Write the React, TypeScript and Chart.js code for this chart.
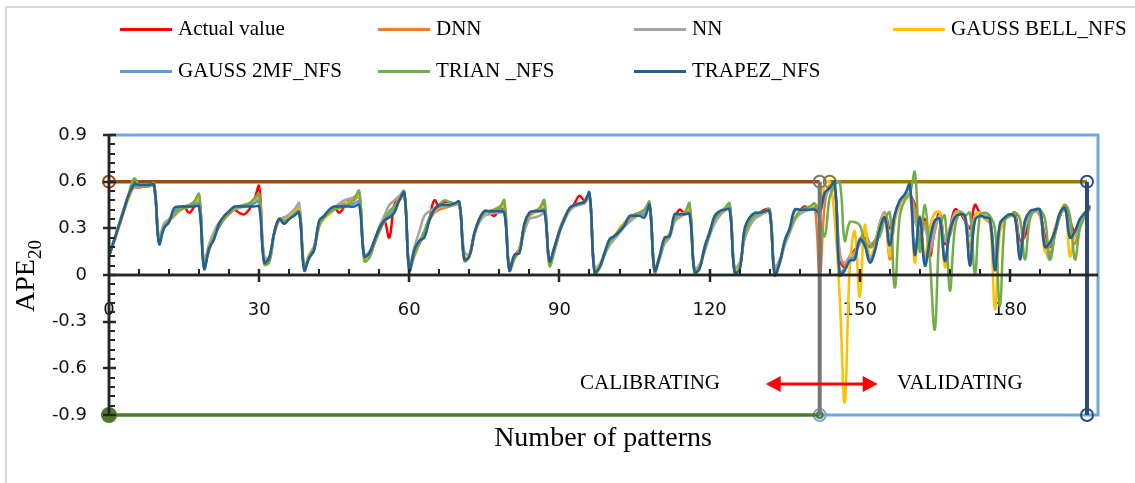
import React, { useEffect, useRef, useState } from 'react';
import { Chart, registerables } from 'chart.js';

Chart.register(...registerables);

// APE20 per pattern index 0..196 (calibration 0..141, validation 142..196)
const ACTUAL = [
  0.12,0.22,0.32,0.42,0.52,0.58,0.57,0.57,0.58,0.57,
  0.21,0.32,0.35,0.38,0.42,0.44,0.40,0.44,0.51,0.06,
  0.18,0.26,0.32,0.36,0.40,0.42,0.40,0.39,0.42,0.48,
  0.57,0.09,0.10,0.27,0.36,0.33,0.37,0.40,0.42,0.04,
  0.12,0.18,0.33,0.38,0.40,0.44,0.40,0.44,0.48,0.50,
  0.52,0.11,0.14,0.21,0.29,0.35,0.24,0.45,0.50,0.53,
  0.03,0.14,0.20,0.27,0.36,0.48,0.44,0.47,0.46,0.45,
  0.46,0.10,0.13,0.27,0.36,0.41,0.40,0.38,0.42,0.42,
  0.04,0.12,0.17,0.32,0.40,0.41,0.42,0.45,0.08,0.17,
  0.29,0.37,0.42,0.46,0.51,0.48,0.52,0.03,0.06,0.14,
  0.21,0.25,0.29,0.33,0.36,0.38,0.40,0.42,0.45,0.03,
  0.12,0.22,0.26,0.36,0.42,0.40,0.43,0.02,0.06,0.17,
  0.28,0.36,0.40,0.42,0.45,0.03,0.06,0.26,0.34,0.38,
  0.40,0.42,0.42,0.02,0.08,0.21,0.29,0.36,0.41,0.44,
  0.43,0.45,0.45,0.50,0.57,0.55,0.10,0.05,0.12,0.16,
  0.20,0.24,0.18,0.20,0.33,0.40,0.30,0.38,0.46,0.50,
  0.51,0.45,0.20,0.36,0.12,0.30,0.40,0.20,0.30,0.42,
  0.40,0.35,0.30,0.45,0.40,0.38,0.36,0.10,0.30,0.36,
  0.38,0.40,0.22,0.25,0.38,0.42,0.40,0.25,0.18,0.30,
  0.38,0.45,0.35,0.28,0.32,0.40,0.42,
];

const DNN = [
  0.12,0.21,0.31,0.41,0.50,0.56,0.56,0.57,0.58,0.58,
  0.23,0.31,0.35,0.38,0.41,0.43,0.45,0.47,0.50,0.07,
  0.16,0.25,0.31,0.36,0.39,0.42,0.44,0.45,0.46,0.47,
  0.50,0.10,0.09,0.26,0.35,0.37,0.38,0.40,0.43,0.05,
  0.11,0.17,0.31,0.37,0.40,0.42,0.45,0.46,0.47,0.48,
  0.51,0.12,0.13,0.20,0.28,0.34,0.39,0.43,0.48,0.52,
  0.04,0.12,0.20,0.28,0.35,0.40,0.42,0.43,0.44,0.45,
  0.45,0.11,0.12,0.26,0.36,0.40,0.41,0.42,0.44,0.45,
  0.03,0.10,0.16,0.30,0.38,0.40,0.42,0.44,0.07,0.15,
  0.27,0.36,0.42,0.45,0.46,0.47,0.51,0.02,0.05,0.13,
  0.20,0.24,0.28,0.32,0.35,0.37,0.39,0.41,0.44,0.02,
  0.10,0.21,0.25,0.35,0.38,0.40,0.42,0.01,0.05,0.16,
  0.27,0.35,0.39,0.42,0.44,0.02,0.05,0.25,0.33,0.37,
  0.39,0.40,0.41,0.03,0.07,0.20,0.28,0.36,0.40,0.42,
  0.43,0.44,0.00,0.45,0.58,0.56,0.15,0.06,0.12,0.15,
  0.22,0.28,0.20,0.18,0.30,0.40,0.10,0.35,0.45,0.50,
  0.52,0.42,0.25,0.34,0.15,0.28,0.38,0.22,0.25,0.38,
  0.40,0.36,0.18,0.38,0.40,0.36,0.33,0.05,0.28,0.36,
  0.38,0.37,0.18,0.30,0.38,0.41,0.38,0.22,0.14,0.26,
  0.38,0.42,0.30,0.20,0.35,0.40,0.43,
];

const NN = [
  0.12,0.23,0.33,0.43,0.52,0.57,0.57,0.57,0.57,0.57,
  0.24,0.33,0.36,0.39,0.42,0.44,0.45,0.46,0.48,0.09,
  0.20,0.28,0.34,0.37,0.40,0.42,0.43,0.44,0.46,0.47,
  0.48,0.12,0.11,0.27,0.36,0.37,0.39,0.42,0.46,0.06,
  0.13,0.19,0.34,0.38,0.41,0.43,0.46,0.48,0.49,0.50,
  0.52,0.13,0.15,0.22,0.31,0.38,0.45,0.48,0.51,0.54,
  0.05,0.18,0.28,0.38,0.41,0.43,0.44,0.44,0.45,0.45,
  0.45,0.15,0.13,0.26,0.34,0.38,0.39,0.40,0.40,0.40,
  0.06,0.12,0.16,0.28,0.36,0.37,0.38,0.40,0.10,0.16,
  0.27,0.35,0.41,0.44,0.45,0.46,0.50,0.04,0.07,0.13,
  0.19,0.23,0.27,0.31,0.34,0.37,0.39,0.41,0.43,0.05,
  0.11,0.20,0.24,0.34,0.37,0.39,0.41,0.04,0.07,0.15,
  0.25,0.33,0.38,0.41,0.43,0.05,0.08,0.23,0.31,0.36,
  0.38,0.40,0.41,0.05,0.10,0.19,0.27,0.35,0.39,0.41,
  0.42,0.44,0.45,0.50,0.55,0.56,0.12,0.08,0.12,0.14,
  0.20,0.22,0.20,0.22,0.33,0.40,0.25,0.36,0.46,0.50,
  0.52,0.35,0.28,0.30,0.18,0.30,0.38,0.22,0.30,0.40,
  0.41,0.38,0.25,0.38,0.40,0.38,0.36,0.12,0.30,0.36,
  0.38,0.38,0.15,0.30,0.38,0.41,0.40,0.18,0.10,0.26,
  0.38,0.42,0.30,0.25,0.34,0.40,0.42,
];

const GAUSS_BELL = [
  0.12,0.22,0.32,0.42,0.51,0.57,0.58,0.58,0.58,0.58,
  0.22,0.31,0.35,0.39,0.42,0.44,0.44,0.46,0.49,0.06,
  0.17,0.25,0.32,0.36,0.40,0.43,0.44,0.45,0.46,0.48,
  0.51,0.09,0.10,0.27,0.36,0.35,0.37,0.40,0.42,0.04,
  0.12,0.18,0.32,0.36,0.39,0.42,0.44,0.45,0.47,0.49,
  0.52,0.11,0.13,0.21,0.29,0.35,0.40,0.44,0.49,0.53,
  0.03,0.14,0.21,0.28,0.36,0.41,0.44,0.45,0.46,0.46,
  0.46,0.10,0.13,0.27,0.36,0.40,0.41,0.42,0.43,0.44,
  0.04,0.11,0.17,0.31,0.39,0.40,0.42,0.44,0.08,0.17,
  0.28,0.37,0.42,0.45,0.46,0.47,0.52,0.03,0.06,0.14,
  0.21,0.25,0.30,0.34,0.37,0.39,0.40,0.42,0.45,0.03,
  0.12,0.22,0.27,0.36,0.39,0.40,0.43,0.02,0.06,0.17,
  0.28,0.36,0.40,0.42,0.45,0.03,0.06,0.26,0.34,0.38,
  0.40,0.41,0.42,0.00,0.08,0.21,0.29,0.36,0.41,0.42,
  0.43,0.45,0.45,0.58,0.60,0.35,-0.15,-0.82,0.05,0.28,
  -0.14,0.32,0.12,0.18,0.32,0.38,0.12,0.36,0.45,0.50,
  0.52,0.08,0.38,0.12,0.30,0.40,0.40,0.05,0.28,0.38,
  0.40,0.36,0.10,0.38,0.40,0.36,0.35,-0.22,0.28,0.36,
  0.39,0.38,0.12,0.34,0.40,0.42,0.40,0.15,0.20,0.30,
  0.40,0.45,0.12,0.28,0.36,0.40,0.43,
];

const GAUSS_2MF = [
  0.12,0.22,0.32,0.42,0.52,0.57,0.57,0.57,0.58,0.58,
  0.21,0.31,0.35,0.41,0.43,0.44,0.44,0.45,0.46,0.05,
  0.17,0.24,0.33,0.37,0.40,0.43,0.44,0.44,0.45,0.46,
  0.47,0.09,0.11,0.27,0.36,0.34,0.36,0.39,0.41,0.04,
  0.11,0.17,0.34,0.38,0.41,0.43,0.44,0.45,0.45,0.46,
  0.47,0.12,0.14,0.22,0.30,0.35,0.38,0.42,0.48,0.53,
  0.03,0.15,0.22,0.26,0.35,0.42,0.44,0.45,0.45,0.46,
  0.46,0.10,0.12,0.27,0.36,0.41,0.41,0.41,0.42,0.41,
  0.03,0.12,0.15,0.33,0.40,0.41,0.41,0.42,0.09,0.18,
  0.28,0.36,0.43,0.45,0.46,0.47,0.52,0.02,0.05,0.14,
  0.22,0.25,0.28,0.32,0.37,0.38,0.39,0.39,0.45,0.03,
  0.12,0.23,0.25,0.38,0.39,0.39,0.40,0.02,0.05,0.18,
  0.27,0.37,0.41,0.42,0.43,0.02,0.04,0.29,0.36,0.39,
  0.40,0.41,0.41,0.01,0.08,0.22,0.30,0.41,0.42,0.42,
  0.42,0.43,0.42,0.52,0.56,0.58,0.02,0.04,0.10,0.12,
  0.22,0.20,0.10,0.16,0.30,0.37,0.20,0.38,0.47,0.51,
  0.56,0.15,0.36,0.08,0.23,0.35,0.36,0.10,0.28,0.37,
  0.39,0.38,0.08,0.35,0.38,0.37,0.36,0.05,0.32,0.37,
  0.39,0.37,0.12,0.34,0.40,0.42,0.41,0.19,0.20,0.28,
  0.40,0.43,0.25,0.28,0.36,0.40,0.43,
];

const TRIAN = [
  0.12,0.22,0.32,0.43,0.53,0.62,0.58,0.57,0.57,0.59,
  0.22,0.31,0.35,0.39,0.42,0.43,0.44,0.47,0.52,0.05,
  0.16,0.25,0.31,0.36,0.40,0.43,0.44,0.45,0.46,0.49,
  0.52,0.07,0.08,0.26,0.36,0.35,0.36,0.39,0.41,0.04,
  0.12,0.18,0.32,0.37,0.40,0.42,0.43,0.44,0.46,0.49,
  0.54,0.09,0.11,0.20,0.28,0.35,0.41,0.44,0.48,0.52,
  0.04,0.13,0.21,0.28,0.37,0.42,0.45,0.48,0.47,0.46,
  0.46,0.09,0.12,0.26,0.36,0.40,0.41,0.42,0.43,0.48,
  0.03,0.11,0.16,0.31,0.39,0.41,0.43,0.48,0.06,0.16,
  0.28,0.37,0.42,0.45,0.46,0.47,0.52,0.01,0.04,0.13,
  0.21,0.25,0.29,0.33,0.37,0.39,0.40,0.42,0.47,0.02,
  0.11,0.22,0.26,0.36,0.39,0.40,0.46,0.01,0.05,0.16,
  0.27,0.36,0.40,0.43,0.46,0.01,0.05,0.26,0.34,0.38,
  0.40,0.41,0.42,0.02,0.08,0.21,0.29,0.36,0.41,0.43,
  0.44,0.46,0.35,0.25,0.50,0.58,0.60,0.22,0.34,0.34,
  0.32,0.22,0.18,0.22,0.25,0.36,0.40,-0.08,0.38,0.48,
  0.52,0.66,0.15,0.45,0.10,-0.35,0.30,0.38,-0.10,0.30,
  0.40,0.38,0.40,0.00,0.38,0.40,0.38,0.30,-0.20,0.35,
  0.38,0.40,0.36,0.10,0.36,0.42,0.42,0.36,0.10,0.26,
  0.38,0.45,0.38,0.10,0.30,0.38,0.45,
];

const TRAPEZ = [
  0.12,0.22,0.32,0.42,0.52,0.58,0.58,0.58,0.58,0.58,
  0.20,0.30,0.34,0.43,0.44,0.44,0.44,0.44,0.44,0.04,
  0.17,0.23,0.33,0.38,0.41,0.44,0.44,0.44,0.44,0.44,
  0.44,0.08,0.11,0.27,0.36,0.33,0.36,0.38,0.40,0.03,
  0.11,0.16,0.35,0.38,0.42,0.44,0.44,0.44,0.44,0.44,
  0.45,0.12,0.14,0.22,0.30,0.35,0.37,0.40,0.48,0.53,
  0.03,0.16,0.22,0.24,0.35,0.42,0.45,0.45,0.45,0.46,
  0.47,0.10,0.12,0.27,0.36,0.41,0.41,0.41,0.41,0.40,
  0.03,0.13,0.14,0.33,0.40,0.41,0.41,0.41,0.09,0.18,
  0.28,0.36,0.43,0.45,0.46,0.47,0.53,0.02,0.05,0.14,
  0.23,0.25,0.28,0.32,0.38,0.38,0.38,0.37,0.45,0.03,
  0.12,0.24,0.25,0.39,0.39,0.39,0.39,0.02,0.04,0.18,
  0.27,0.38,0.41,0.42,0.42,0.02,0.03,0.30,0.37,0.40,
  0.40,0.41,0.41,0.00,0.08,0.22,0.30,0.42,0.42,0.42,
  0.42,0.42,0.40,0.53,0.56,0.60,0.00,0.03,0.09,0.10,
  0.23,0.19,0.08,0.15,0.30,0.37,0.19,0.39,0.48,0.52,
  0.58,0.13,0.37,0.06,0.22,0.35,0.36,0.09,0.28,0.37,
  0.39,0.38,0.06,0.35,0.38,0.37,0.36,0.03,0.33,0.37,
  0.39,0.37,0.10,0.35,0.41,0.42,0.42,0.18,0.21,0.28,
  0.40,0.43,0.24,0.28,0.36,0.40,0.44,
];

const SERIES = [ACTUAL, DNN, NN, GAUSS_BELL, GAUSS_2MF, TRIAN, TRAPEZ];
const SERIES_NAMES = ['Actual value', 'DNN', 'NN', 'GAUSS BELL_NFS', 'GAUSS 2MF_NFS', 'TRIAN _NFS', 'TRAPEZ_NFS'];
const SERIES_COLORS = ['#FF0000', '#ED7D31', '#A5A5A5', '#FFC000', '#5B9BD5', '#70AD47', '#255E91'];

const X_TICKS = [0, 30, 60, 90, 120, 150, 180];
const Y_TICKS = [-0.9, -0.6, -0.3, 0, 0.3, 0.6, 0.9];
const X_MAX = 197.6;
const Y_LIMIT = 0.9;
const X_MINOR_STEP = 6;
const Y_MINOR_STEP = 0.06;

// phase markers
const SPLIT_X = 142;        // last calibrating pattern
const VALID_START_X = 144;  // first validating marker
const VALID_END_X = 195.4;  // last validating marker
const LEVEL = 0.6;
const ARROW_FROM = 131.2;
const ARROW_TO = 153.6;
const ARROW_Y = -0.7;

const SERIF = '"Liberation Serif", "Times New Roman", serif';
const SANS = '"DejaVu Sans", sans-serif';
const AXIS_COLOR = '#262626';

type AxisGeometry = {
  x0: number;
  y0: number;
  yTop: number;
  yBot: number;
  xEnd: number;
  xMajor: number[];
  xMinor: number[];
  yMajor: number[];
  yMinor: number[];
};

function drawArrow(chart: any) {
  const ctx = chart.ctx;
  const xa = chart.scales.x.getPixelForValue(ARROW_FROM);
  const xb = chart.scales.x.getPixelForValue(ARROW_TO);
  const ya = chart.scales.y.getPixelForValue(ARROW_Y);
  const head = 15;
  const half = 8;
  ctx.save();
  ctx.strokeStyle = '#FF0000';
  ctx.fillStyle = '#FF0000';
  ctx.lineWidth = 3;
  ctx.beginPath();
  ctx.moveTo(xa + head - 2, ya);
  ctx.lineTo(xb - head + 2, ya);
  ctx.stroke();
  ctx.beginPath();
  ctx.moveTo(xa, ya);
  ctx.lineTo(xa + head, ya - half);
  ctx.lineTo(xa + head, ya + half);
  ctx.closePath();
  ctx.fill();
  ctx.beginPath();
  ctx.moveTo(xb, ya);
  ctx.lineTo(xb - head, ya - half);
  ctx.lineTo(xb - head, ya + half);
  ctx.closePath();
  ctx.fill();
  ctx.restore();
}

const arrowPlugin = {
  id: 'phaseArrow',
  afterDatasetsDraw(chart: any) {
    drawArrow(chart);
  },
};

function marker(
  points: { x: number; y: number }[],
  color: string,
  radii: number[],
  order: number,
  width: number,
  fills?: string[],
) {
  return {
    data: points,
    borderColor: color,
    borderWidth: width,
    tension: 0,
    pointRadius: radii,
    pointHoverRadius: radii,
    pointBorderWidth: 2,
    pointBorderColor: color,
    pointBackgroundColor: fills || radii.map(() => 'rgba(255,255,255,0)'),
    clip: false,
    order,
  };
}

// axis geometry taken from the chart's scales
function readAxes(chart: any): AxisGeometry {
  const xs = chart.scales.x;
  const ys = chart.scales.y;
  const xMajor: number[] = [];
  const xMinor: number[] = [];
  for (let i = 1; i * X_MINOR_STEP < X_MAX; i++) {
    const v = i * X_MINOR_STEP;
    (v % 30 === 0 ? xMajor : xMinor).push(xs.getPixelForValue(v));
  }
  const yMajor: number[] = [];
  const yMinor: number[] = [];
  const ny = Math.round(Y_LIMIT / Y_MINOR_STEP);
  for (let k = -ny; k <= ny; k++) {
    (k % 5 === 0 ? yMajor : yMinor).push(ys.getPixelForValue(k * Y_MINOR_STEP));
  }
  return {
    x0: xs.getPixelForValue(0),
    y0: ys.getPixelForValue(0),
    yTop: ys.getPixelForValue(Y_LIMIT),
    yBot: ys.getPixelForValue(-Y_LIMIT),
    xEnd: xs.getPixelForValue(X_MAX),
    xMajor,
    xMinor,
    yMajor,
    yMinor,
  };
}

function AxisLines({ g }: { g: AxisGeometry }) {
  const r = (v: number) => Math.round(v);
  return (
    <svg width={1135} height={483} style={{ position: 'absolute', left: 0, top: 0, pointerEvents: 'none' }}>
      <g stroke={AXIS_COLOR} strokeWidth={2.5}>
        <line x1={r(g.x0)} y1={g.yTop} x2={r(g.x0)} y2={g.yBot} />
        <line x1={g.x0} y1={r(g.y0)} x2={g.xEnd} y2={r(g.y0)} />
        {g.xMajor.map((px, i) => (
          <line key={'xM' + i} x1={r(px)} y1={r(g.y0) - 6} x2={r(px)} y2={r(g.y0) + 7} />
        ))}
        {g.yMajor.map((py, i) => (
          <line key={'yM' + i} x1={r(g.x0) - 6} y1={r(py)} x2={r(g.x0) + 7} y2={r(py)} />
        ))}
      </g>
      <g stroke={AXIS_COLOR} strokeWidth={2}>
        {g.xMinor.map((px, i) => (
          <line key={'xm' + i} x1={r(px)} y1={r(g.y0)} x2={r(px)} y2={r(g.y0) - 6} />
        ))}
        {g.yMinor.map((py, i) => (
          <line key={'ym' + i} x1={r(g.x0)} y1={r(py)} x2={r(g.x0) + 6} y2={r(py)} />
        ))}
      </g>
    </svg>
  );
}

export default function App() {
  const canvasRef = useRef<HTMLCanvasElement | null>(null);
  const [axes, setAxes] = useState<AxisGeometry | null>(null);

  useEffect(() => {
    if (!canvasRef.current) return;
    const seriesSets = SERIES.map((vals, i) => ({
      label: SERIES_NAMES[i],
      data: vals.map((v, k) => ({ x: k, y: v })),
      borderColor: SERIES_COLORS[i],
      borderWidth: 2.5,
      pointRadius: 0,
      tension: 0.4,
      order: 10 - i,
    }));
    const decor = [
      // axis lines on the canvas as well
      marker([{ x: 0, y: 0 }, { x: X_MAX, y: 0 }], AXIS_COLOR, [0, 0], 0, 2.5),
      marker([{ x: 0, y: Y_LIMIT }, { x: 0, y: -Y_LIMIT }], AXIS_COLOR, [0, 0], 0, 2.5),
      marker([{ x: SPLIT_X, y: -Y_LIMIT }, { x: X_MAX, y: -Y_LIMIT }, { x: X_MAX, y: Y_LIMIT }, { x: 0, y: Y_LIMIT }], '#6FA8DC', [6, 0, 0, 0], 40, 3),
      marker([{ x: 0, y: -Y_LIMIT }, { x: SPLIT_X, y: -Y_LIMIT }], '#4E7A2E', [7, 3], 39, 3.5, ['#4E7A2E', 'rgba(255,255,255,0)']),
      marker([{ x: 0, y: LEVEL }, { x: SPLIT_X, y: LEVEL }], '#9E480E', [6, 0], 38, 3.5),
      marker([{ x: VALID_START_X, y: LEVEL }, { x: VALID_END_X, y: LEVEL }], '#9C7800', [6, 0], 37, 3.5),
      marker([{ x: SPLIT_X, y: LEVEL }, { x: SPLIT_X, y: -Y_LIMIT }], '#767676', [6, 0], 1, 4),
      marker([{ x: VALID_END_X, y: LEVEL }, { x: VALID_END_X, y: -Y_LIMIT }], '#2E4A7A', [6, 6], 0, 4),
    ];

    const chart = new Chart(canvasRef.current, {
      type: 'line',
      data: { datasets: [...seriesSets, ...decor] as any },
      plugins: [arrowPlugin],
      options: {
        animation: false,
        responsive: false,
        devicePixelRatio: 1,
        layout: { padding: { top: 135, bottom: 68, left: 0, right: 37 } },
        plugins: { legend: { display: false }, tooltip: { enabled: false } },
        scales: {
          x: {
            type: 'linear',
            min: 0,
            max: X_MAX,
            position: { y: 0 } as any,
            afterFit: (s: any) => { s.height = 0; },
            afterBuildTicks: (s: any) => { s.ticks = X_TICKS.map((v) => ({ value: v })); },
            grid: { display: false, drawTicks: false },
            border: { display: false },
            ticks: {
              padding: 25,
              color: '#111',
              font: { family: SANS, size: 18 },
              maxRotation: 0,
              autoSkip: false,
              callback: (v: any) => String(v),
            },
          },
          y: {
            type: 'linear',
            min: -Y_LIMIT,
            max: Y_LIMIT,
            afterFit: (s: any) => { s.width = 109; },
            afterBuildTicks: (s: any) => { s.ticks = Y_TICKS.map((v) => ({ value: v })); },
            grid: { display: false, drawTicks: false },
            border: { display: false },
            ticks: {
              padding: 22,
              color: '#111',
              font: { family: SANS, size: 18 },
              autoSkip: false,
              callback: (v: any) => {
                const r = Math.round(Number(v) * 10) / 10;
                return r === 0 ? '0' : r.toFixed(1);
              },
            },
          },
        },
      },
    });
    setAxes(readAxes(chart));
    return () => chart.destroy();
  }, []);

  const legendRows = [
    [0, 1, 2, 3],
    [4, 5, 6],
  ];
  const colX = [120, 378, 634, 893];
  const rowY = [29, 71];

  return (
    <div style={{ position: 'absolute', left: 0, top: 0, width: 1135, height: 483, overflow: 'hidden', background: '#fff' }}>
      <div style={{ position: 'absolute', left: 5, top: 6, width: 1200, height: 600, border: '2px solid #D9D9D9' }} />
      <canvas ref={canvasRef} width={1135} height={483} style={{ position: 'absolute', left: 0, top: 0 }} />
      {axes && <AxisLines g={axes} />}
      {legendRows.map((row, r) =>
        row.map((si, c) => (
          <React.Fragment key={si}>
            <div style={{ position: 'absolute', left: colX[c], top: rowY[r] - 1.5, width: 52, height: 3, background: SERIES_COLORS[si] }} />
            <div style={{ position: 'absolute', left: colX[c] + 58, top: rowY[r] - 13, lineHeight: '26px', font: `21px ${SERIF}`, color: '#000', whiteSpace: 'nowrap' }}>
              {SERIES_NAMES[si]}
            </div>
          </React.Fragment>
        )),
      )}
      <div style={{ position: 'absolute', left: 30, top: 276, transform: 'translate(-50%, -50%) rotate(-90deg)', font: `28px ${SERIF}`, color: '#000', whiteSpace: 'nowrap', lineHeight: '32px' }}>
        APE<sub style={{ fontSize: 19 }}>20</sub>
      </div>
      <div style={{ position: 'absolute', left: 603, top: 437, transform: 'translate(-50%, -50%)', font: `28px ${SERIF}`, color: '#000', whiteSpace: 'nowrap' }}>
        Number of patterns
      </div>
      <div style={{ position: 'absolute', left: 580, top: 370, lineHeight: '26px', font: `21px ${SERIF}`, color: '#000', whiteSpace: 'nowrap' }}>
        CALIBRATING
      </div>
      <div style={{ position: 'absolute', left: 897, top: 370, lineHeight: '26px', font: `21px ${SERIF}`, color: '#000', whiteSpace: 'nowrap' }}>
        VALIDATING
      </div>
    </div>
  );
}
